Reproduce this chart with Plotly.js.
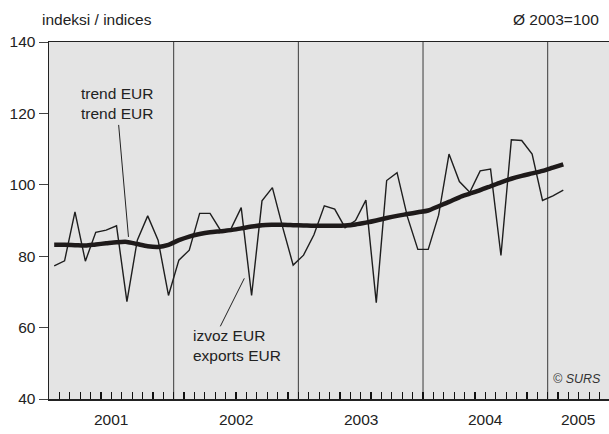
<!DOCTYPE html>
<html>
<head>
<meta charset="utf-8">
<script src="https://cdn.plot.ly/plotly-3.0.1.min.js"></script>
<style>html,body{margin:0;padding:0;background:#fff;}#chart{width:609px;height:434px;}</style>
</head>
<body>
<div id="chart"></div>
<script>
// Monthly index values, Jan 2001 .. Feb 2005 (Ø 2003 = 100)
var exportsEUR = [
  77.3, 78.7, 92.4, 78.6, 86.7, 87.3, 88.5, 67.3, 84.5, 91.3, 84.5, 69.0,
  78.9, 81.7, 92.0, 92.0, 87.3, 87.6, 93.6, 69.0, 95.5, 99.2, 88.0, 77.5,
  80.3, 86.0, 94.1, 93.2, 88.0, 90.0, 95.7, 67.0, 101.2, 103.4, 91.0, 81.9,
  81.9, 91.5, 108.6, 100.9, 97.9, 103.9, 104.4, 80.2, 112.6, 112.4, 108.6, 95.6,
  96.9, 98.5
];
var trendEUR = [
  83.2, 83.2, 83.1, 83.0, 83.3, 83.6, 83.9, 84.0, 83.4, 82.8, 82.6, 83.2,
  84.5, 85.5, 86.2, 86.7, 87.0, 87.3, 87.8, 88.3, 88.7, 88.8, 88.8, 88.7,
  88.6, 88.5, 88.5, 88.5, 88.6, 88.9, 89.4, 90.0, 90.7, 91.3, 91.8, 92.3,
  92.8, 94.0, 95.2, 96.5, 97.5, 98.5, 99.6, 100.7, 101.7, 102.5, 103.2, 103.9,
  104.8, 105.7
];
var yearLabels = ['2001', '2002', '2003', '2004', '2005'];
var yearCenters = [5.5, 17.5, 29.5, 41.5, 50.45];
var yearBoundaries = [11.5, 23.5, 35.5, 47.5];

var monthIdx = exportsEUR.map(function(_, i){ return i; });
var FONT = 'Liberation Sans, Arial, Helvetica, sans-serif';

var traces = [
  {x: monthIdx, y: exportsEUR, type: 'scatter', mode: 'lines',
   line: {color: '#1e1e1e', width: 1.4}, hoverinfo: 'skip'},
  {x: monthIdx, y: trendEUR, type: 'scatter', mode: 'lines',
   line: {color: '#1e1a1a', width: 4.5, shape: 'spline', smoothing: 0.8}, hoverinfo: 'skip'}
];

var shapes = yearBoundaries.map(function(b){
  return {type: 'line', xref: 'x', yref: 'paper', x0: b, x1: b, y0: 0, y1: 1,
          layer: 'below', line: {color: '#3a3a3a', width: 1}};
});

var annotations = yearLabels.map(function(t, k){
  return {x: yearCenters[k], y: 0, xref: 'x', yref: 'paper', yshift: -20,
    text: t, showarrow: false, xanchor: 'center', yanchor: 'middle',
    font: {family: FONT, size: 15.5, color: '#222'}};
});
annotations.push(
  {xref: 'paper', yref: 'paper', x: -0.016, y: 1.064, xanchor: 'left', yanchor: 'middle',
   text: 'indeksi / indices', showarrow: false, font: {family: FONT, size: 15.5, color: '#222'}},
  {xref: 'paper', yref: 'paper', x: 0.986, y: 1.064, xanchor: 'right', yanchor: 'middle',
   text: 'Ø 2003=100', showarrow: false, font: {family: FONT, size: 15.5, color: '#222'}},
  {xref: 'paper', yref: 'paper', x: 0.1214, y: 0.8277, xanchor: 'center', yanchor: 'middle',
   text: 'trend EUR<br>trend EUR', showarrow: false, align: 'center',
   font: {family: FONT, size: 15.5, color: '#222'}},
  {xref: 'paper', yref: 'paper', x: 0.2536, y: 0.1499, xanchor: 'left', yanchor: 'middle',
   text: 'izvoz EUR<br>exports EUR', showarrow: false, align: 'left',
   font: {family: FONT, size: 15.5, color: '#222'}},
  {xref: 'paper', yref: 'paper', x: 0.989, y: 0.056, xanchor: 'right', yanchor: 'middle',
   text: '<i>© SURS</i>', showarrow: false, font: {family: FONT, size: 12.5, color: '#333'}},
  // leader lines
  {x: 7.15, y: 85.4, xref: 'x', yref: 'y', text: ' ', showarrow: true, arrowhead: 0,
   arrowwidth: 1, arrowcolor: '#222', ax: -10, ay: -114, font: {size: 1}},
  {x: 18.3, y: 73.8, xref: 'x', yref: 'y', text: ' ', showarrow: true, arrowhead: 0,
   arrowwidth: 1, arrowcolor: '#222', ax: -25, ay: 50, font: {size: 1}}
);

var layout = {
  width: 609, height: 434,
  margin: {l: 49, r: 0, t: 42, b: 35, pad: 0},
  paper_bgcolor: '#ffffff',
  plot_bgcolor: '#e4e4e4',
  showlegend: false,
  font: {family: FONT, color: '#222'},
  xaxis: {
    range: [-0.5, 53.4], zeroline: false,
    tickmode: 'linear', tick0: -0.5, dtick: 1,
    showticklabels: false,
    ticks: 'inside', ticklen: 7, tickcolor: '#111', tickwidth: 1.2,
    showgrid: false,
    showline: true, mirror: true, linecolor: '#222', linewidth: 1.5
  },
  yaxis: {
    range: [40, 140], tickmode: 'linear', tick0: 40, dtick: 20,
    ticks: 'outside', ticklen: 9, tickcolor: '#444', tickwidth: 1,
    showgrid: false, zeroline: false,
    showline: true, linecolor: '#222', linewidth: 1.5,
    tickfont: {family: FONT, size: 15.5, color: '#222'}
  },
  shapes: shapes,
  annotations: annotations
};

Plotly.newPlot('chart', traces, layout, {staticPlot: true, displayModeBar: false});
</script>
</body>
</html>
